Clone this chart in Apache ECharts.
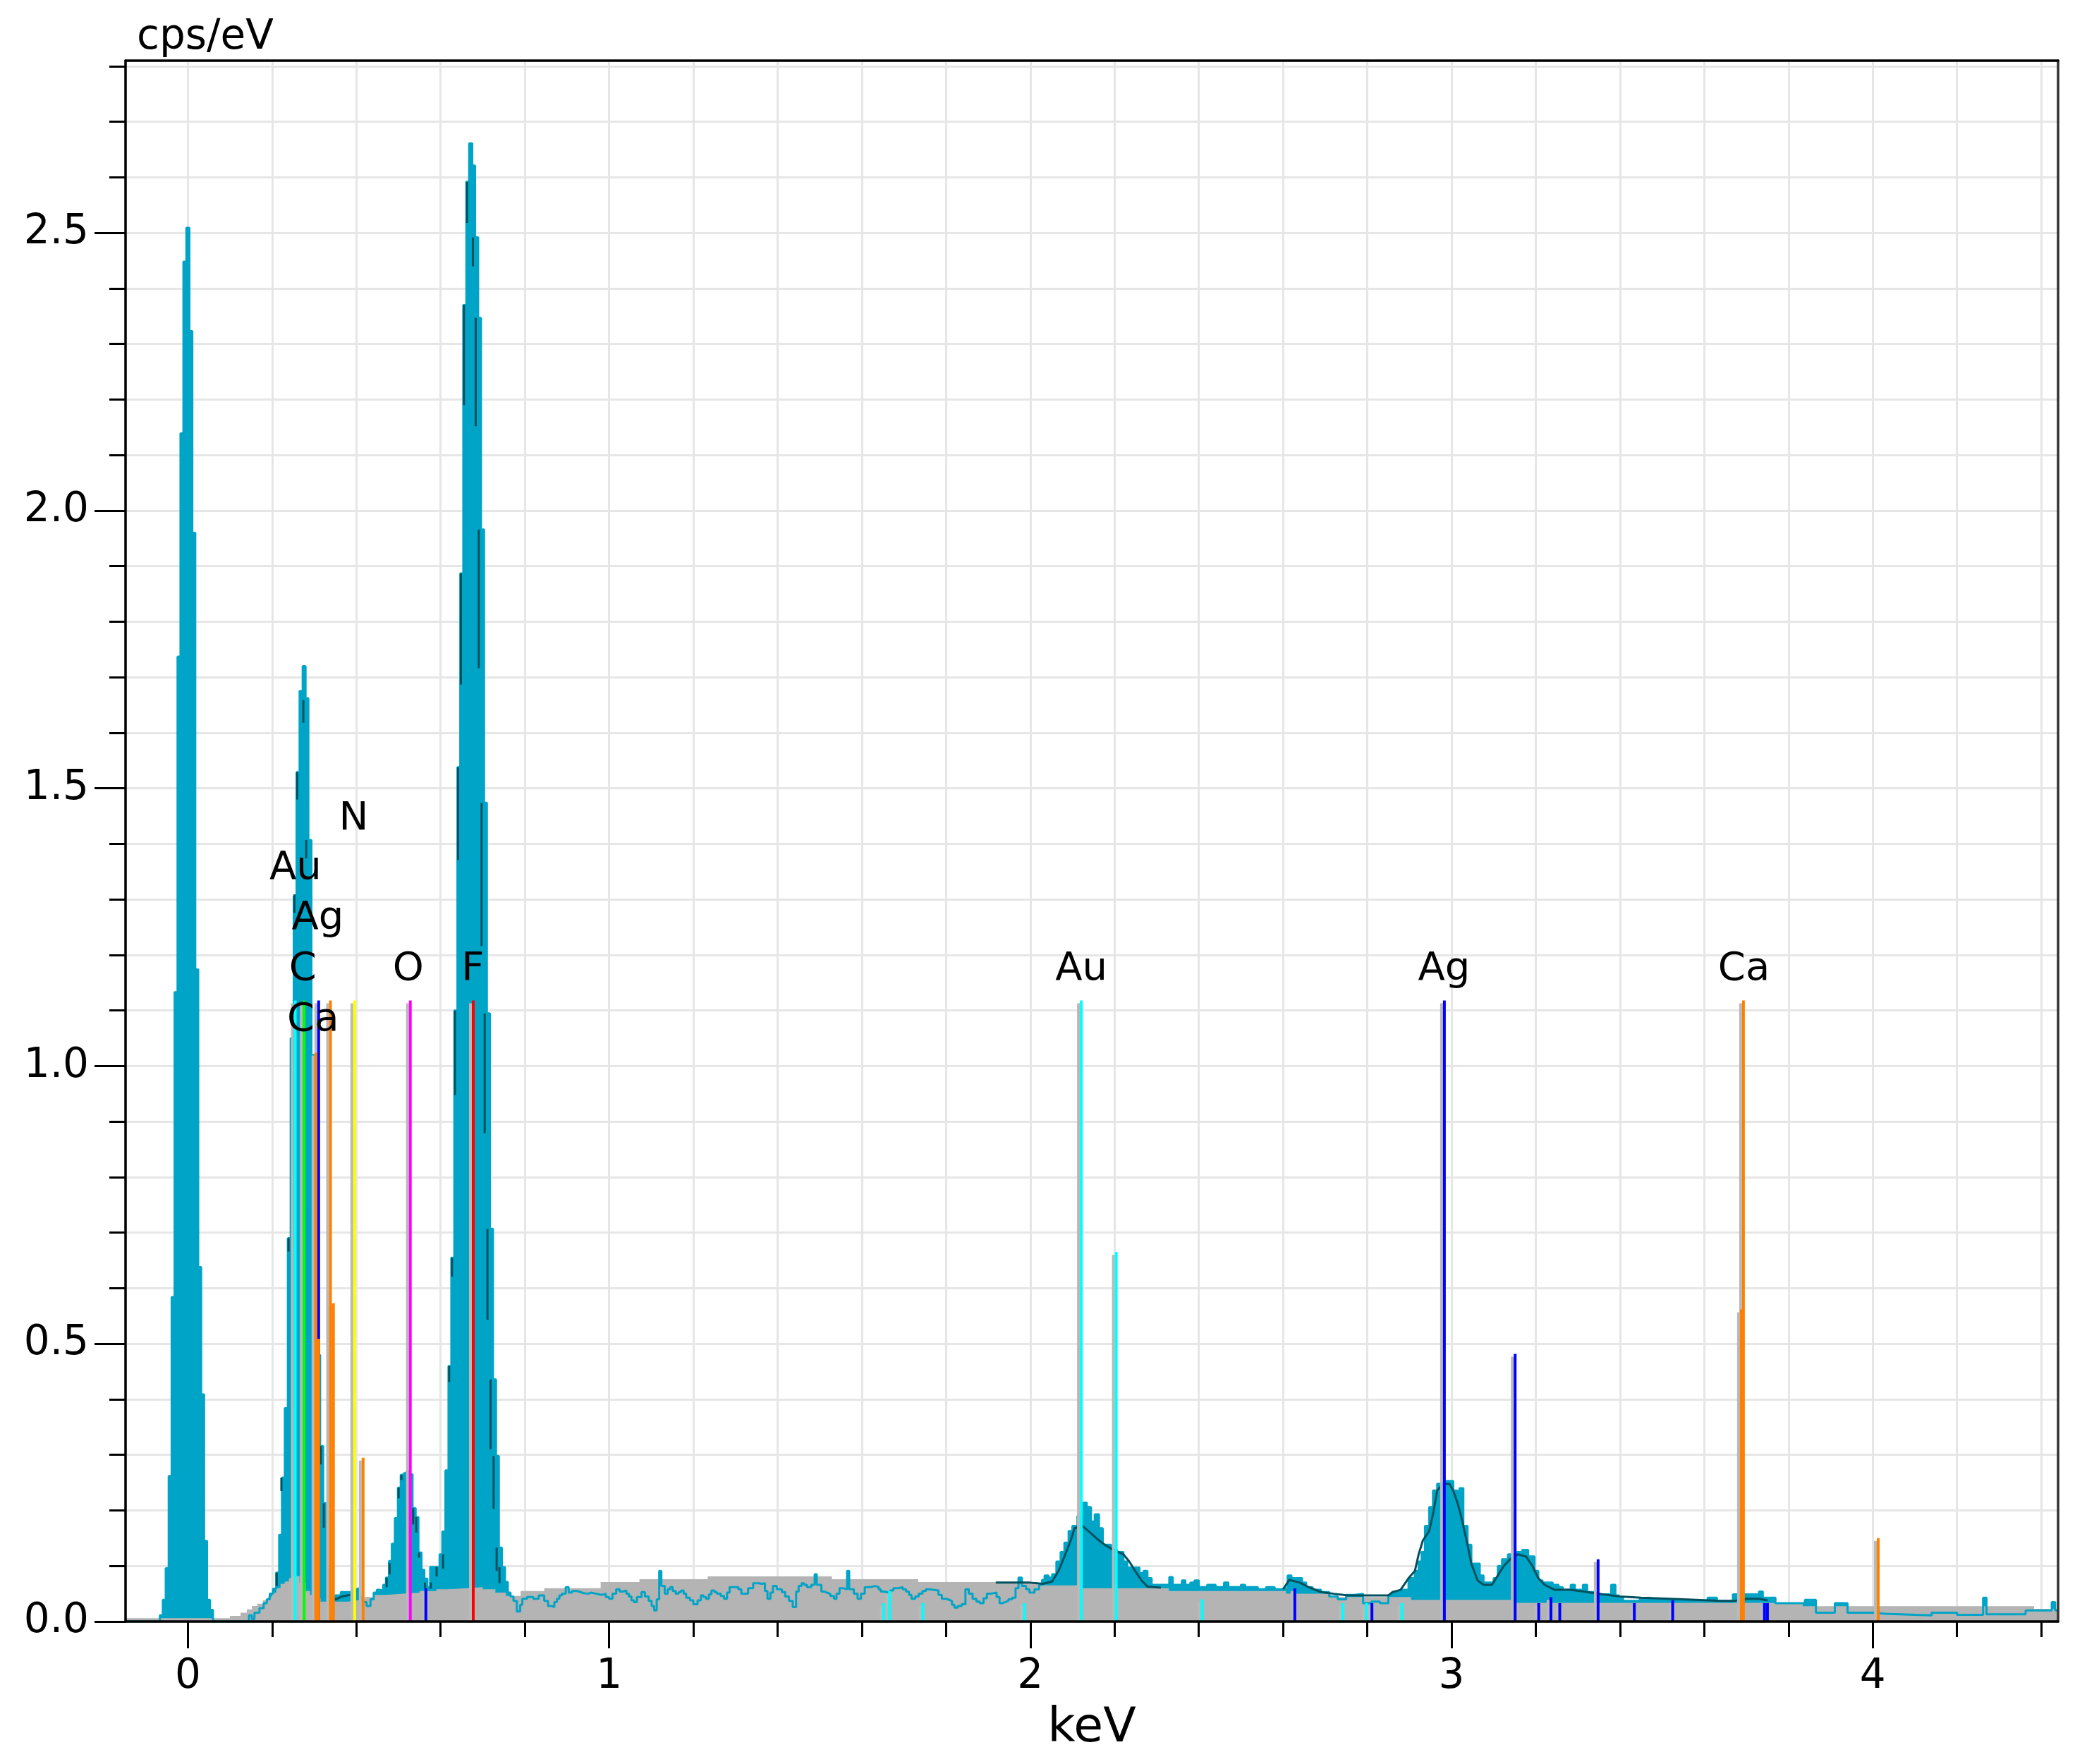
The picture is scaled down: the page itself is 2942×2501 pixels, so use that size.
<!DOCTYPE html>
<html>
<head>
<meta charset="utf-8">
<script src="https://cdn.jsdelivr.net/npm/echarts@6/dist/echarts.min.js"></script>
<style>
html,body{margin:0;padding:0;background:#ffffff;}
#chart{width:2942px;height:2501px;}
</style>
</head>
<body>
<div id="chart"></div>
<script>
// ---------------- data ----------------
const xRange = [-0.148, 4.44];
const yRange = [0, 2.81];
const xMinorTicks = [0,0.2,0.4,0.6,0.8,1,1.2,1.4,1.6,1.8,2,2.2,2.4,2.6,2.8,3,3.2,3.4,3.6,3.8,4,4.2,4.4];
const xMajorTicks = [0,1,2,3,4];
const xTickLabels = ['0','1','2','3','4'];
const yMinorTicks = [0,0.1,0.2,0.3,0.4,0.5,0.6,0.7,0.8,0.9,1,1.1,1.2,1.3,1.4,1.5,1.6,1.7,1.8,1.9,2,2.1,2.2,2.3,2.4,2.5,2.6,2.7,2.8];
const yMajorTicks = [0,0.5,1,1.5,2,2.5];
const yTickLabels = ['0.0','0.5','1.0','1.5','2.0','2.5'];

// measured spectrum: [keV at left edge of step, cps/eV]
const spectrum = [
[-0.148,0],[-0.0665,0.011],[-0.0595,0.039],[-0.0525,0.096],[-0.0455,0.262],[-0.0385,0.584],[-0.0315,1.133],[-0.0245,1.737],[-0.0175,2.139],[-0.0105,2.448],[-0.0035,2.509],[0.0035,2.323],[0.0105,1.960],[0.0175,1.174],[0.0245,0.638],[0.0315,0.409],[0.0385,0.145],[0.0455,0.039],[0.0525,0.021],[0.0595,0],
[0.145,0.011],[0.152,0.004],[0.158,0.016],[0.170,0.024],[0.180,0.033],[0.1874,0.040],[0.1944,0.050],[0.2022,0.059],[0.2095,0.088],[0.2167,0.156],[0.2235,0.259],[0.2302,0.384],[0.2374,0.690],[0.2441,1.050],[0.2514,1.306],[0.2581,1.529],[0.2653,1.675],[0.2726,1.720],[0.2793,1.662],[0.2860,1.407],[0.2932,1.020],[0.3005,0.740],[0.3072,0.480],[0.3139,0.316],[0.3212,0.213],[0.3284,0.100],[0.3351,0.055],[0.342,0.044],[0.349,0.047],[0.363,0.053],[0.385,0.050],[0.392,0.058],[0.3995,0.060],[0.408,0.045],[0.415,0.035],[0.4244,0.028],[0.4335,0.040],[0.4412,0.052],[0.4487,0.057],[0.4542,0.056],[0.4636,0.066],
[0.4703,0.079],[0.4775,0.109],[0.4842,0.140],[0.4915,0.186],[0.4987,0.241],[0.5054,0.264],[0.5127,0.267],[0.5194,0.270],[0.5266,0.265],[0.5333,0.204],[0.5406,0.188],[0.5473,0.124],[0.5546,0.093],[0.5613,0.077],[0.5685,0.062],[0.5752,0.098],
[0.5976,0.121],[0.6043,0.162],[0.6115,0.272],[0.6188,0.460],[0.6255,0.655],[0.6327,1.100],[0.6400,1.538],[0.6467,1.887],[0.6539,2.370],[0.6612,2.592],[0.6679,2.661],[0.6751,2.621],[0.6818,2.492],[0.6891,2.347],[0.6958,1.966],[0.7031,1.474],[0.7098,1.095],[0.7170,0.707],[0.7243,0.436],[0.7315,0.298],[0.7382,0.133],[0.7455,0.098],[0.7528,0.071],
[0.7595,0.052],[0.766,0.045],[0.773,0.037],[0.781,0.018],[0.789,0.030],[0.794,0.041],[0.805,0.044],[0.820,0.041],[0.833,0.047],[0.846,0.037],[0.855,0.028],[0.863,0.026],[0.870,0.035],[0.876,0.041],[0.882,0.047],[0.888,0.050],[0.897,0.062],[0.904,0.052],[0.912,0.055],[0.923,0.053],[0.932,0.051],[0.940,0.050],[0.950,0.052],[0.957,0.050],[0.970,0.048],[0.982,0.050],[0.992,0.044],
[1.000,0.041],[1.008,0.050],[1.017,0.058],[1.025,0.054],[1.034,0.056],[1.041,0.050],[1.047,0.045],[1.053,0.038],[1.059,0.035],[1.066,0.044],[1.077,0.053],[1.085,0.045],[1.094,0.037],[1.101,0.028],[1.107,0.020],[1.113,0.040],[1.119,0.091],[1.124,0.064],[1.132,0.050],[1.139,0.058],[1.145,0.062],[1.151,0.055],[1.158,0.050],[1.165,0.053],[1.171,0.056],[1.177,0.050],[1.183,0.043],[1.192,0.038],[1.200,0.031],[1.210,0.038],[1.218,0.047],[1.224,0.044],[1.230,0.041],[1.237,0.049],[1.243,0.056],[1.250,0.053],[1.256,0.050],[1.265,0.046],[1.273,0.041],[1.280,0.052],[1.286,0.062],[1.300,0.062],[1.307,0.058],[1.314,0.050],[1.320,0.050],[1.330,0.060],[1.342,0.069],[1.355,0.068],[1.363,0.069],[1.370,0.055],[1.376,0.041],[1.383,0.052],[1.389,0.064],[1.398,0.058],[1.410,0.053],[1.418,0.045],[1.427,0.037],[1.436,0.026],[1.444,0.054],[1.450,0.064],[1.457,0.069],[1.463,0.066],[1.470,0.062],[1.480,0.066],[1.488,0.085],[1.493,0.066],
[1.504,0.054],[1.511,0.052],[1.517,0.050],[1.525,0.046],[1.534,0.041],[1.540,0.050],[1.547,0.060],[1.556,0.058],[1.565,0.091],[1.570,0.058],[1.581,0.050],[1.590,0.041],[1.598,0.050],[1.607,0.062],[1.620,0.064],[1.632,0.062],[1.640,0.058],[1.645,0.054],[1.652,0.052],[1.667,0.056],[1.675,0.060],[1.688,0.062],[1.697,0.058],[1.705,0.054],[1.712,0.048],[1.718,0.041],[1.727,0.045],[1.735,0.050],[1.744,0.055],[1.752,0.058],[1.760,0.056],[1.782,0.048],[1.790,0.041],[1.800,0.039],[1.808,0.037],[1.814,0.030],[1.820,0.025],[1.828,0.028],[1.837,0.031],[1.846,0.058],[1.854,0.050],[1.863,0.041],[1.872,0.036],[1.880,0.033],[1.889,0.042],[1.897,0.050],[1.905,0.052],[1.920,0.044],[1.927,0.033],[1.934,0.035],[1.940,0.037],[1.948,0.040],[1.957,0.043],[1.965,0.060],[1.972,0.079],[1.980,0.064],[1.990,0.058],[1.998,0.052],
[2.010,0.058],[2.021,0.066],[2.028,0.075],[2.034,0.083],[2.043,0.079],[2.052,0.085],[2.062,0.108],[2.072,0.125],[2.081,0.142],[2.091,0.163],[2.100,0.172],[2.112,0.190],[2.124,0.214],[2.134,0.206],[2.144,0.180],[2.153,0.193],[2.163,0.168],[2.172,0.138],[2.192,0.129],[2.206,0.125],[2.221,0.108],[2.230,0.097],[2.259,0.087],[2.269,0.091],[2.278,0.078],[2.288,0.066],[2.330,0.080],[2.338,0.066],[2.360,0.074],[2.368,0.066],[2.380,0.070],[2.390,0.074],[2.400,0.062],[2.420,0.066],[2.440,0.062],[2.460,0.070],[2.470,0.062],[2.500,0.066],[2.510,0.062],[2.540,0.058],[2.560,0.062],[2.580,0.058],[2.600,0.060],[2.611,0.083],[2.620,0.078],[2.645,0.070],[2.655,0.062],[2.670,0.057],[2.690,0.053],[2.710,0.045],[2.730,0.040],[2.750,0.048],[2.770,0.050],[2.790,0.033],[2.810,0.036],[2.830,0.033],[2.850,0.047],[2.860,0.053],[2.879,0.057],[2.898,0.078],[2.913,0.091],[2.922,0.108],[2.929,0.125],[2.937,0.172],[2.947,0.206],[2.956,0.236],[2.966,0.248],[2.975,0.250],[2.985,0.253],
[3.004,0.236],[3.014,0.230],[3.019,0.240],[3.028,0.172],[3.038,0.138],[3.047,0.104],[3.067,0.083],[3.076,0.070],[3.100,0.078],[3.110,0.100],[3.120,0.112],[3.134,0.121],[3.153,0.125],[3.168,0.129],[3.182,0.117],[3.197,0.091],[3.206,0.074],[3.216,0.070],[3.240,0.066],[3.254,0.062],[3.264,0.057],[3.283,0.066],[3.293,0.057],[3.312,0.066],[3.322,0.053],[3.341,0.049],[3.379,0.066],[3.389,0.047],[3.397,0.043],[3.407,0.037],[3.447,0.041],[3.457,0.043],[3.467,0.041],[3.480,0.039],[3.507,0.037],[3.540,0.039],[3.560,0.037],[3.608,0.043],[3.630,0.037],[3.668,0.049],[3.730,0.054],[3.739,0.043],[3.769,0.033],[3.839,0.039],[3.865,0.016],[3.910,0.033],[3.940,0.016],
[4.000,0.014],[4.030,0.012],[4.100,0.011],[4.140,0.016],[4.200,0.012],[4.262,0.043],[4.270,0.013],[4.363,0.020],[4.425,0.035],[4.433,0.020],[4.44,0.020]
];

// background (bremsstrahlung) model: [keV, cps/eV]
const background = [
[-0.148,0.006],[0.100,0.010],[0.125,0.016],[0.140,0.022],[0.152,0.028],[0.165,0.032],[0.178,0.038],[0.190,0.045],[0.200,0.052],[0.210,0.060],[0.220,0.068],[0.230,0.072],[0.240,0.078],[0.250,0.082],[0.265,0.070],[0.280,0.055],[0.290,0.048],[0.300,0.042],[0.315,0.036],[0.350,0.036],[0.380,0.038],[0.400,0.040],[0.420,0.044],[0.440,0.048],[0.470,0.050],[0.510,0.052],[0.550,0.055],[0.590,0.058],[0.620,0.060],[0.660,0.062],[0.700,0.058],[0.730,0.052],[0.755,0.046],[0.790,0.055],[0.846,0.060],[0.980,0.071],[1.072,0.0762],[1.234,0.0813],[1.529,0.0762],[1.734,0.071],[2.019,0.065],[2.115,0.060],[2.329,0.055],[2.607,0.050],[2.708,0.044],[2.904,0.039],[3.145,0.0335],[3.834,0.0276],[4.383,0.023],[4.44,0.023]
];

// fit curve pieces (dark strokes visible on the peaks)
const fitPaths = [
[[0.2110,0.088],[0.2110,0.064]],[[0.2220,0.259],[0.2220,0.235]],[[0.2389,0.690],[0.2389,0.666]],[[0.2529,1.309],[0.2529,1.276]],[[0.2596,1.529],[0.2596,1.480]],[[0.2741,1.659],[0.2741,1.618]],[[0.2808,1.407],[0.2808,1.374]],[[0.3154,0.316],[0.3154,0.283]],[[0.3227,0.213],[0.3227,0.169]],
[[0.342,0.043],[0.352,0.040],[0.365,0.045],[0.385,0.048]],
[[0.4718,0.079],[0.4718,0.062]],[[0.4790,0.105],[0.4790,0.085]],[[0.5002,0.241],[0.5002,0.222]],[[0.5069,0.264],[0.5069,0.255]],[[0.5348,0.204],[0.5348,0.175]],[[0.5421,0.188],[0.5421,0.160]],[[0.5488,0.124],[0.5488,0.115]],[[0.5628,0.070],[0.5628,0.060]],[[0.5767,0.070],[0.5767,0.059]],[[0.5905,0.098],[0.5905,0.081]],
[[0.6058,0.121],[0.6058,0.095]],[[0.6203,0.460],[0.6203,0.431]],[[0.6270,0.655],[0.6270,0.621]],[[0.6342,1.100],[0.6342,0.948]],[[0.6415,1.538],[0.6415,1.371]],[[0.6482,1.887],[0.6482,1.687]],[[0.6554,2.370],[0.6554,2.190]],[[0.6627,2.592],[0.6627,2.518]],[[0.6766,2.492],[0.6766,2.440]],[[0.6833,2.347],[0.6833,2.152]],[[0.6906,1.966],[0.6906,1.716]],[[0.6973,1.474],[0.6973,1.216]],[[0.7046,1.095],[0.7046,0.879]],[[0.7113,0.707],[0.7113,0.543]],[[0.7185,0.436],[0.7185,0.310]],[[0.7258,0.298],[0.7258,0.203]],[[0.7330,0.133],[0.7330,0.091]],[[0.7397,0.098],[0.7397,0.069]],
[[1.918,0.070],[1.999,0.070],[2.030,0.068],[2.052,0.072],[2.067,0.091],[2.081,0.117],[2.096,0.146],[2.105,0.168],[2.124,0.172],[2.144,0.159],[2.163,0.146],[2.177,0.138],[2.197,0.129],[2.221,0.121],[2.235,0.108],[2.249,0.091],[2.264,0.074],[2.278,0.063],[2.310,0.061]],
[[2.600,0.058],[2.615,0.075],[2.640,0.070],[2.660,0.062],[2.690,0.053],[2.720,0.050],[2.754,0.047],[2.850,0.047],[2.860,0.053],[2.879,0.057],[2.898,0.078],[2.913,0.091],[2.922,0.121],[2.932,0.146],[2.947,0.163],[2.956,0.193],[2.966,0.236],[2.980,0.248],[2.995,0.248],[3.004,0.236],[3.014,0.214],[3.023,0.189],[3.038,0.138],[3.047,0.104],[3.062,0.074],[3.076,0.066],[3.096,0.066],[3.110,0.083],[3.124,0.100],[3.139,0.112],[3.158,0.121],[3.177,0.117],[3.192,0.100],[3.206,0.078],[3.221,0.066],[3.245,0.057],[3.283,0.057],[3.322,0.053],[3.360,0.049],[3.400,0.045],[3.450,0.043],[3.550,0.040],[3.640,0.037],[3.670,0.037],[3.700,0.041],[3.730,0.041],[3.750,0.038]]
];

// element line markers: [keV, height]
const markerCyan    = [[0.2548,1.118],[1.652,0.033],[1.666,0.055],[1.745,0.033],[1.986,0.033],[2.121,1.118],[2.204,0.665],[2.408,0.040],[2.742,0.033],[2.798,0.033],[2.882,0.033]];
const markerGreen   = [[0.276,1.118]];
const markerBlue    = [[0.3105,1.118],[0.565,0.060],[2.628,0.060],[2.811,0.033],[2.983,1.118],[3.151,0.482],[3.207,0.033],[3.236,0.044],[3.257,0.033],[3.348,0.112],[3.434,0.033],[3.525,0.038],[3.743,0.033],[3.750,0.033]];
const markerOrange  = [[0.3038,1.024],[0.3105,0.509],[0.3385,1.118],[0.3455,0.573],[0.416,0.295],[3.688,0.562],[3.693,1.118],[4.013,0.150]];
const markerYellow  = [[0.396,1.118]];
const markerMagenta = [[0.528,1.118]];
const markerRed     = [[0.6775,1.118]];

// element labels: [text, keV, cps/eV]
const elementLabels = [
['N',0.3935,1.445],['Au',0.2553,1.356],['Ag',0.3080,1.265],['C',0.2728,1.174],['Ca',0.2971,1.082],
['O',0.5232,1.174],['F',0.6765,1.174],['Au',2.1211,1.174],['Ag',2.9821,1.174],['Ca',3.6941,1.174]
];

// ---------------- build ----------------
const FONT = "'DejaVu Sans', Verdana, sans-serif";
const TEAL = '#00a4c6';
const GRAY = '#b4b4b4';
const GRID = '#e6e6e6';

function stickData(list) {
  const out = [];
  list.forEach(p => { out.push([p[0], 0]); out.push([p[0], p[1]]); out.push([p[0], '-']); });
  return out;
}
function pathData(paths) {
  const out = [];
  paths.forEach(path => { path.forEach(p => out.push(p)); out.push([path[path.length-1][0], '-']); });
  return out;
}
function markerSeries(list, color) {
  return {
    type: 'line', data: stickData(list), symbol: 'none', showSymbol: false, connectNulls: false,
    silent: true, animation: false, z: 6,
    lineStyle: { color: color, width: 4, cap: 'butt',
      shadowColor: '#b9b9b9', shadowOffsetX: -4, shadowOffsetY: 4, shadowBlur: 0 }
  };
}

const axisBase = (extra) => Object.assign({
  type: 'value', min: xRange[0], max: xRange[1],
  axisLine: { show: false, onZero: false },
  axisTick: { show: false }, axisLabel: { show: false }, splitLine: { show: false }
}, extra);
const yBase = (extra) => Object.assign({
  type: 'value', min: yRange[0], max: yRange[1],
  axisLine: { show: false, onZero: false },
  axisTick: { show: false }, axisLabel: { show: false }, splitLine: { show: false }
}, extra);

const blackLine = { color: '#000', width: 3.5 };
const tickLine = { color: '#000', width: 3 };

const option = {
  animation: false,
  backgroundColor: '#ffffff',
  textStyle: { fontFamily: FONT, color: '#000' },
  grid: { left: 178, top: 86, right: 24, bottom: 202, containLabel: false, outerBoundsMode: 'none' },
  xAxis: [
    axisBase({ position: 'bottom', minInterval: 0.2, maxInterval: 0.2, z: 0,
      splitLine: { show: true, lineStyle: { color: GRID, width: 3 } } }),
    axisBase({ position: 'bottom', z: 10,
      axisLine: { show: true, onZero: false, lineStyle: blackLine },
      axisTick: { show: true, customValues: xMinorTicks, length: 22, lineStyle: tickLine } }),
    axisBase({ position: 'bottom', z: 10,
      axisTick: { show: true, customValues: xMajorTicks, length: 38, lineStyle: tickLine },
      axisLabel: { show: true, customValues: xMajorTicks, margin: 50, fontSize: 58, fontFamily: FONT, color: '#000',
        formatter: v => { const i = xMajorTicks.indexOf(v); return i >= 0 ? xTickLabels[i] : ''; } },
      name: 'keV', nameLocation: 'middle', nameGap: 152,
      nameTextStyle: { fontSize: 68, fontFamily: FONT, color: '#000', verticalAlign: 'middle' } }),
    axisBase({ position: 'top', z: 10,
      axisLine: { show: true, onZero: false, lineStyle: blackLine } })
  ],
  yAxis: [
    yBase({ position: 'left', interval: 0.1, z: 0,
      splitLine: { show: true, lineStyle: { color: GRID, width: 3 } } }),
    yBase({ position: 'left', z: 10,
      axisLine: { show: true, onZero: false, lineStyle: blackLine },
      axisTick: { show: true, customValues: yMinorTicks, length: 23, lineStyle: tickLine },
      name: 'cps/eV', nameLocation: 'end', nameGap: 32,
      nameTextStyle: { fontSize: 58, fontFamily: FONT, color: '#000', align: 'left', verticalAlign: 'middle', padding: [0,0,0,16] } }),
    yBase({ position: 'left', z: 10,
      axisTick: { show: true, customValues: yMajorTicks, length: 44, lineStyle: tickLine },
      axisLabel: { show: true, customValues: yMajorTicks, margin: 52, fontSize: 58, fontFamily: FONT, color: '#000',
        formatter: v => { const i = yMajorTicks.indexOf(v); return i >= 0 ? yTickLabels[i] : v.toFixed(1); } } }),
    yBase({ position: 'right', z: 10,
      axisLine: { show: true, onZero: false, lineStyle: { color: '#333', width: 3.5 } } })
  ],
  series: [
    { type: 'line', name: 'spectrum-fill', data: spectrum, step: 'end', symbol: 'none', showSymbol: false,
      silent: true, z: 2, lineStyle: { width: 0, opacity: 0 }, areaStyle: { color: TEAL, opacity: 1 } },
    { type: 'line', name: 'background', data: background, step: 'end', symbol: 'none', showSymbol: false,
      silent: true, z: 3, lineStyle: { width: 0, opacity: 0 }, areaStyle: { color: GRAY, opacity: 1 } },
    { type: 'line', name: 'spectrum-line', data: spectrum, step: 'end', symbol: 'none', showSymbol: false,
      silent: true, z: 4, lineStyle: { color: TEAL, width: 3 } },
    { type: 'line', name: 'fit', data: pathData(fitPaths), symbol: 'none', showSymbol: false, connectNulls: false,
      silent: true, z: 5, lineStyle: { color: '#02505e', width: 3 } },
    markerSeries(markerCyan, '#00ffff'),
    markerSeries(markerGreen, '#00ff00'),
    markerSeries(markerBlue, '#0000ff'),
    markerSeries(markerOrange, '#ff8000'),
    markerSeries(markerYellow, '#ffff00'),
    markerSeries(markerMagenta, '#ff00ff'),
    markerSeries(markerRed, '#ff0000'),
    { type: 'scatter', name: 'labels', symbolSize: 0, silent: true, z: 8,
      itemStyle: { opacity: 1 },
      data: elementLabels.map(l => ({ name: l[0], value: [l[1], l[2]] })),
      label: { show: true, position: 'inside', formatter: '{b}', fontSize: 56, fontFamily: FONT,
        color: '#000000', opacity: 1, textBorderWidth: 0, textShadowBlur: 0 } }
  ]
};

const chart = echarts.init(document.getElementById('chart'), null, { renderer: 'canvas' });
chart.setOption(option);
</script>
</body>
</html>
